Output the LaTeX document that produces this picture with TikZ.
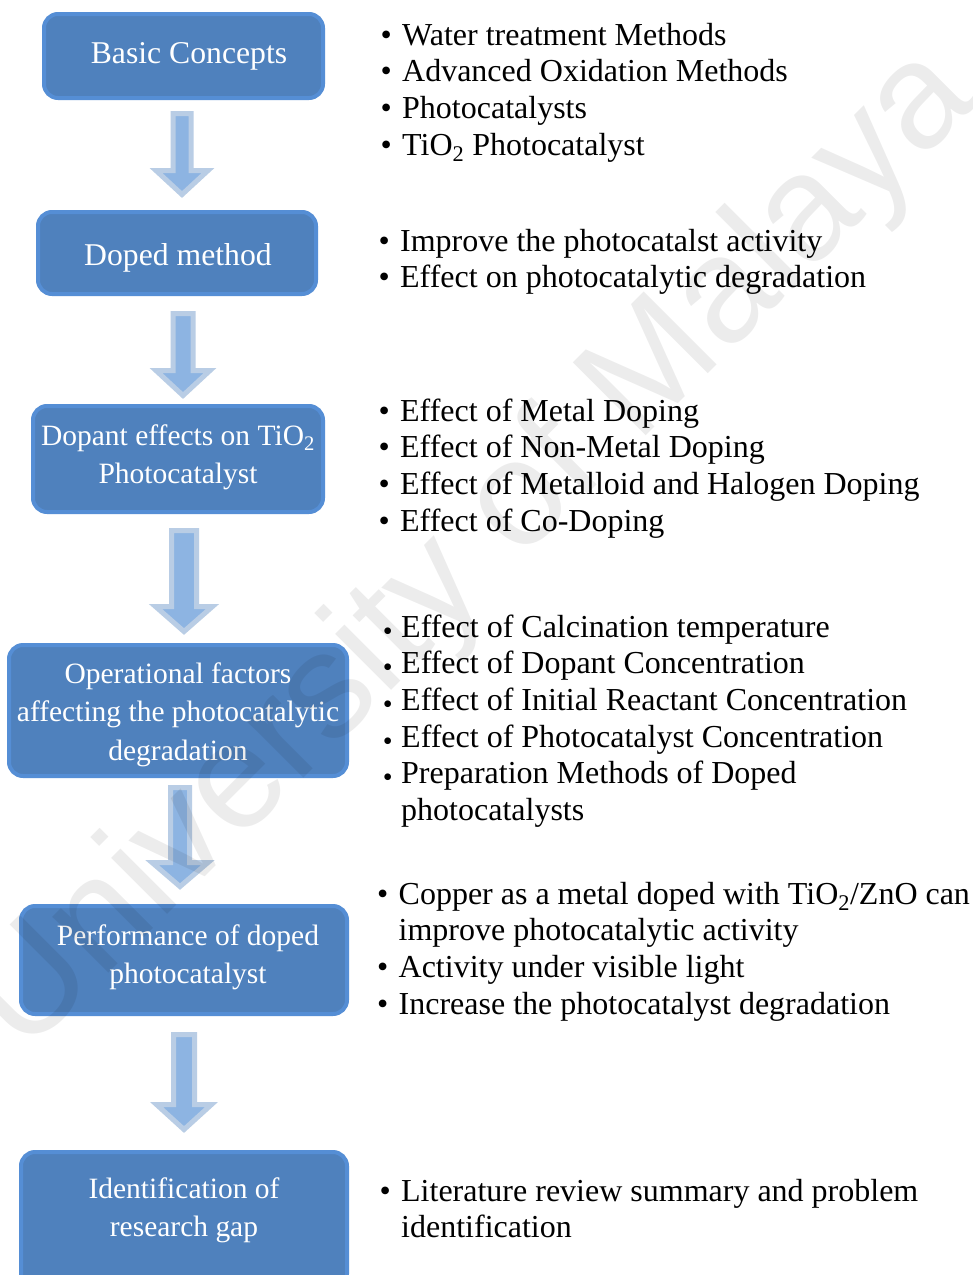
\documentclass[tikz,border=0pt]{standalone}
\usepackage{fontspec}
\setmainfont{Liberation Serif}
\newfontfamily\wmfont{Liberation Sans}
\definecolor{boxfill}{HTML}{4F81BD}
\definecolor{boxline}{HTML}{558ED5}
\definecolor{arrfill}{HTML}{8DB4E2}
\definecolor{arrline}{HTML}{B9CDE5}
\newcommand\ws{\spaceskip=0.25em\relax}
\newcommand\bitem{\makebox[21.5pt][l]{•}}
\newcommand\bitemsm{\makebox[20pt][l]{\hspace{1.6pt}\raisebox{-3pt}{\fontsize{28}{28}\selectfont•}}}
\newcommand\bcont{\hspace*{21.5pt}}
\newcommand\blockarr[7]{% name, cx, top, headbase, tip, shaft half, head half (outer)
  \coordinate (#1) at (#2,#3);
  \draw[arr] ({#2-#6+2.5},{#3+2.5}) -- ({#2+#6-2.5},{#3+2.5}) -- ({#2+#6-2.5},{#4+2.5})
    -- ({#2+#7-2.5},{#4+2.5}) -- (#2,{#5-3.5}) -- ({#2-#7+2.5},{#4+2.5})
    -- ({#2-#6+2.5},{#4+2.5}) -- cycle;}
\begin{document}
\begin{tikzpicture}[x=1pt,y=-1pt,
  box/.style={draw=boxline, fill=boxfill, line width=4pt, rounded corners=14pt, inner sep=0pt},
  boxtext/.style={text=white, font=\fontsize{29.5}{38.5}\selectfont, align=center,
    text width=340pt, anchor=base, inner sep=0pt},
  boxtextbig/.style={boxtext, font=\fontsize{31.7}{38.5}\selectfont},
  bul/.style={font=\fontsize{32}{36.7}\selectfont, align=left, text width=650pt,
    anchor=base west, inner sep=0pt},
  arr/.style={draw=arrline, fill=arrfill, line width=5pt, line join=miter},
  wm/.style={font=\wmfont\fontsize{150}{150}\selectfont, text=black, text opacity=0.075,
    rotate=45, inner sep=0pt}]
\useasboundingbox (0,0) rectangle (973,1275);
\fill[white] (0,0) rectangle (973,1275);

% boxes
\node[box, minimum width=279pt, minimum height=84pt]  (b1) at (183.5,56) {};
\node[box, minimum width=278pt, minimum height=82pt]  (b2) at (177,253) {};
\node[box, minimum width=290pt, minimum height=106pt] (b3) at (178,459) {};
\node[box, minimum width=338pt, minimum height=131pt] (b4) at (178,710.5) {};
\node[box, minimum width=326pt, minimum height=108pt] (b5) at (184,960) {};
\node[box, minimum width=326pt, minimum height=136pt] (b6) at (184,1220) {};

% box texts
\node[boxtextbig] (t1) at (189,63) {\ws Basic Concepts};
\node[boxtextbig] (t2) at (178,265) {\ws Doped method};
\node[boxtext] (t3) at (178,445) {\ws Dopant effects on TiO\textsubscript{2}\\Photocatalyst};
\node[boxtext] (t4) at (178,683) {\ws Operational factors\\affecting the photocatalytic\\degradation};
\node[boxtext] (t5) at (188,945) {\ws Performance of doped\\photocatalyst};
\node[boxtext] (t6) at (184,1198) {\ws Identification of\\research gap};

% block arrows
\blockarr{a1}{182}{111}{168}{198}{11.5}{28.5}
\blockarr{a2}{183}{311}{368}{399}{12.5}{29.5}
\blockarr{a3}{184}{528}{604}{635}{15}{31}
\blockarr{a4}{180}{785}{860}{890}{12}{30.5}
\blockarr{a5}{184}{1032}{1102}{1133}{13}{30}

% bullet lists
\node[bul] (g1) at (380.5,45) {\ws\bitem Water treatment Methods\\
  \bitem Advanced Oxidation Methods\\
  \bitem Photocatalysts\\
  \bitem TiO\textsubscript{2} Photocatalyst};
\node[bul] (g2) at (378.5,251) {\ws\bitem Improve the photocatalst activity\\
  \bitem Effect on photocatalytic degradation};
\node[bul] (g3) at (378.5,421) {\ws\bitem Effect of Metal Doping\\
  \bitem Effect of Non-Metal Doping\\
  \bitem Effect of Metalloid and Halogen Doping\\
  \bitem Effect of Co-Doping};
\node[bul] (g4) at (381,637) {\ws\bitemsm Effect of Calcination temperature\\
  \bitemsm Effect of Dopant Concentration\\
  \bitemsm Effect of Initial Reactant Concentration\\
  \bitemsm Effect of Photocatalyst Concentration\\
  \bitemsm Preparation Methods of Doped\\
  \hspace*{20pt}photocatalysts};
\node[bul] (g5) at (377,904) {\ws\bitem Copper as a metal doped with TiO\textsubscript{2}/ZnO can\\
  \bcont improve photocatalytic activity\\
  \bitem Activity under visible light\\
  \bitem Increase the photocatalyst degradation};
\node[bul] (g6) at (379.5,1201) {\ws\bitem Literature review summary and problem\\
  \bcont identification};

% watermark
\node[wm] (wm) at (475,552) {University of Malaya};
\end{tikzpicture}
\end{document}
